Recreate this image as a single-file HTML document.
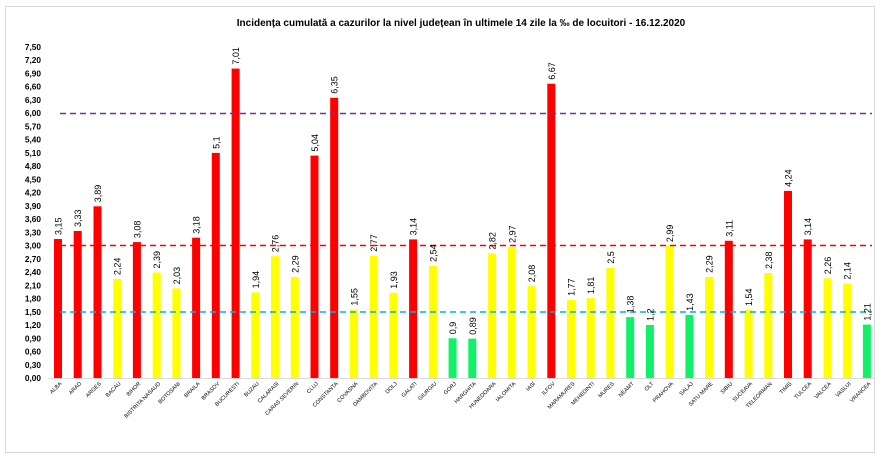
<!DOCTYPE html>
<html><head><meta charset="utf-8"><style>body{margin:0;background:#fff}svg{display:block}text{font-family:"Liberation Sans",sans-serif}</style></head><body>
<svg width="892" height="476" viewBox="0 0 892 476" xmlns="http://www.w3.org/2000/svg">
<rect x="5.5" y="6.5" width="869" height="446" fill="#fff" stroke="#d9d9d9"/>
<text x="461" y="26" text-anchor="middle" font-size="10" font-weight="bold" fill="#000">Incidența cumulată a cazurilor la nivel județean în ultimele 14 zile   la ‰ de locuitori  - 16.12.2020</text>
<g font-size="8.3" font-weight="bold" text-anchor="end" fill="#000">
<text x="41" y="381">0,00</text><text x="41" y="367.8">0,30</text><text x="41" y="354.5">0,60</text><text x="41" y="341.3">0,90</text><text x="41" y="328">1,20</text><text x="41" y="314.8">1,50</text><text x="41" y="301.6">1,80</text><text x="41" y="288.3">2,10</text><text x="41" y="275.1">2,40</text><text x="41" y="261.8">2,70</text><text x="41" y="248.6">3,00</text><text x="41" y="235.4">3,30</text><text x="41" y="222.1">3,60</text><text x="41" y="208.9">3,90</text><text x="41" y="195.6">4,20</text><text x="41" y="182.4">4,50</text><text x="41" y="169.2">4,80</text><text x="41" y="155.9">5,10</text><text x="41" y="142.7">5,40</text><text x="41" y="129.4">5,70</text><text x="41" y="116.2">6,00</text><text x="41" y="103">6,30</text><text x="41" y="89.7">6,60</text><text x="41" y="76.5">6,90</text><text x="41" y="63.2">7,20</text><text x="41" y="50">7,50</text>
</g>
<line x1="48" y1="378.5" x2="874" y2="378.5" stroke="#d9d9d9"/>
<g>
<rect x="54" y="239" width="8" height="139" fill="#f00"/>
<rect x="73.7" y="231" width="8" height="147" fill="#f00"/>
<rect x="93.5" y="206.3" width="8" height="171.7" fill="#f00"/>
<rect x="113.2" y="279.1" width="8" height="98.9" fill="#ff0"/>
<rect x="132.9" y="242.1" width="8" height="135.9" fill="#f00"/>
<rect x="152.7" y="272.5" width="8" height="105.5" fill="#ff0"/>
<rect x="172.4" y="288.4" width="8" height="89.6" fill="#ff0"/>
<rect x="192.1" y="237.7" width="8" height="140.3" fill="#f00"/>
<rect x="211.8" y="152.9" width="8" height="225.1" fill="#f00"/>
<rect x="231.6" y="68.6" width="8" height="309.4" fill="#f00"/>
<rect x="251.3" y="292.4" width="8" height="85.6" fill="#ff0"/>
<rect x="271" y="256.2" width="8" height="121.8" fill="#ff0"/>
<rect x="290.8" y="276.9" width="8" height="101.1" fill="#ff0"/>
<rect x="310.5" y="155.6" width="8" height="222.4" fill="#f00"/>
<rect x="330.2" y="97.8" width="8" height="280.2" fill="#f00"/>
<rect x="350" y="309.6" width="8" height="68.4" fill="#ff0"/>
<rect x="369.7" y="255.8" width="8" height="122.2" fill="#ff0"/>
<rect x="389.4" y="292.8" width="8" height="85.2" fill="#ff0"/>
<rect x="409.1" y="239.4" width="8" height="138.6" fill="#f00"/>
<rect x="428.9" y="265.9" width="8" height="112.1" fill="#ff0"/>
<rect x="448.6" y="338.3" width="8" height="39.7" fill="#10f068"/>
<rect x="468.3" y="338.7" width="8" height="39.3" fill="#10f068"/>
<rect x="488.1" y="253.6" width="8" height="124.4" fill="#ff0"/>
<rect x="507.8" y="246.9" width="8" height="131.1" fill="#ff0"/>
<rect x="527.5" y="286.2" width="8" height="91.8" fill="#ff0"/>
<rect x="547.3" y="83.7" width="8" height="294.3" fill="#f00"/>
<rect x="567" y="299.9" width="8" height="78.1" fill="#ff0"/>
<rect x="586.7" y="298.1" width="8" height="79.9" fill="#ff0"/>
<rect x="606.4" y="267.7" width="8" height="110.3" fill="#ff0"/>
<rect x="626.2" y="317.1" width="8" height="60.9" fill="#10f068"/>
<rect x="645.9" y="325" width="8" height="53" fill="#10f068"/>
<rect x="665.6" y="246.1" width="8" height="131.9" fill="#ff0"/>
<rect x="685.4" y="314.9" width="8" height="63.1" fill="#10f068"/>
<rect x="705.1" y="276.9" width="8" height="101.1" fill="#ff0"/>
<rect x="724.8" y="240.8" width="8" height="137.2" fill="#f00"/>
<rect x="744.6" y="310" width="8" height="68" fill="#ff0"/>
<rect x="764.3" y="273" width="8" height="105" fill="#ff0"/>
<rect x="784" y="190.9" width="8" height="187.1" fill="#f00"/>
<rect x="803.7" y="239.4" width="8" height="138.6" fill="#f00"/>
<rect x="823.5" y="278.3" width="8" height="99.7" fill="#ff0"/>
<rect x="843.2" y="283.6" width="8" height="94.4" fill="#ff0"/>
<rect x="862.9" y="324.6" width="8" height="53.4" fill="#10f068"/>
</g>
<line x1="60" y1="113.5" x2="872" y2="113.5" stroke="#7030a0" stroke-width="1.5" stroke-dasharray="6,4"/>
<line x1="60" y1="245.5" x2="872" y2="245.5" stroke="#f00" stroke-width="1.5" stroke-dasharray="6,4"/>
<line x1="60" y1="312" x2="872" y2="312" stroke="#00b0f0" stroke-width="1.5" stroke-dasharray="6,4"/>
<g font-size="9" fill="#000">
<text transform="translate(61.5,235) rotate(-90)">3,15</text>
<text transform="translate(81.2,227) rotate(-90)">3,33</text>
<text transform="translate(101,202.3) rotate(-90)">3,89</text>
<text transform="translate(120.7,275.1) rotate(-90)">2,24</text>
<text transform="translate(140.4,238.1) rotate(-90)">3,08</text>
<text transform="translate(160.2,268.5) rotate(-90)">2,39</text>
<text transform="translate(179.9,284.4) rotate(-90)">2,03</text>
<text transform="translate(199.6,233.7) rotate(-90)">3,18</text>
<text transform="translate(219.3,148.9) rotate(-90)">5,1</text>
<text transform="translate(239.1,64.6) rotate(-90)">7,01</text>
<text transform="translate(258.8,288.4) rotate(-90)">1,94</text>
<text transform="translate(278.5,252.2) rotate(-90)">2,76</text>
<text transform="translate(298.3,272.9) rotate(-90)">2,29</text>
<text transform="translate(318,151.6) rotate(-90)">5,04</text>
<text transform="translate(337.7,93.8) rotate(-90)">6,35</text>
<text transform="translate(357.5,305.6) rotate(-90)">1,55</text>
<text transform="translate(377.2,251.8) rotate(-90)">2,77</text>
<text transform="translate(396.9,288.8) rotate(-90)">1,93</text>
<text transform="translate(416.6,235.4) rotate(-90)">3,14</text>
<text transform="translate(436.4,261.9) rotate(-90)">2,54</text>
<text transform="translate(456.1,334.3) rotate(-90)">0,9</text>
<text transform="translate(475.8,334.7) rotate(-90)">0,89</text>
<text transform="translate(495.6,249.6) rotate(-90)">2,82</text>
<text transform="translate(515.3,242.9) rotate(-90)">2,97</text>
<text transform="translate(535,282.2) rotate(-90)">2,08</text>
<text transform="translate(554.8,79.7) rotate(-90)">6,67</text>
<text transform="translate(574.5,295.9) rotate(-90)">1,77</text>
<text transform="translate(594.2,294.1) rotate(-90)">1,81</text>
<text transform="translate(613.9,263.7) rotate(-90)">2,5</text>
<text transform="translate(633.7,313.1) rotate(-90)">1,38</text>
<text transform="translate(653.4,321) rotate(-90)">1,2</text>
<text transform="translate(673.1,242.1) rotate(-90)">2,99</text>
<text transform="translate(692.9,310.9) rotate(-90)">1,43</text>
<text transform="translate(712.6,272.9) rotate(-90)">2,29</text>
<text transform="translate(732.3,236.8) rotate(-90)">3,11</text>
<text transform="translate(752.1,306) rotate(-90)">1,54</text>
<text transform="translate(771.8,269) rotate(-90)">2,38</text>
<text transform="translate(791.5,186.9) rotate(-90)">4,24</text>
<text transform="translate(811.2,235.4) rotate(-90)">3,14</text>
<text transform="translate(831,274.3) rotate(-90)">2,26</text>
<text transform="translate(850.7,279.6) rotate(-90)">2,14</text>
<text transform="translate(870.4,320.6) rotate(-90)">1,21</text>
</g>
<g font-size="5.5" fill="#000" text-anchor="end">
<text transform="translate(62,384) rotate(-45)">ALBA</text>
<text transform="translate(81.7,384) rotate(-45)">ARAD</text>
<text transform="translate(101.5,384) rotate(-45)">ARGES</text>
<text transform="translate(121.2,384) rotate(-45)">BACAU</text>
<text transform="translate(140.9,384) rotate(-45)">BIHOR</text>
<text transform="translate(160.7,384) rotate(-45)">BISTRITA NASAUD</text>
<text transform="translate(180.4,384) rotate(-45)">BOTOSANI</text>
<text transform="translate(200.1,384) rotate(-45)">BRAILA</text>
<text transform="translate(219.8,384) rotate(-45)">BRASOV</text>
<text transform="translate(239.6,384) rotate(-45)">BUCURESTI</text>
<text transform="translate(259.3,384) rotate(-45)">BUZAU</text>
<text transform="translate(279,384) rotate(-45)">CALARASI</text>
<text transform="translate(298.8,384) rotate(-45)">CARAS SEVERIN</text>
<text transform="translate(318.5,384) rotate(-45)">CLUJ</text>
<text transform="translate(338.2,384) rotate(-45)">CONSTANTA</text>
<text transform="translate(358,384) rotate(-45)">COVASNA</text>
<text transform="translate(377.7,384) rotate(-45)">DAMBOVITA</text>
<text transform="translate(397.4,384) rotate(-45)">DOLJ</text>
<text transform="translate(417.1,384) rotate(-45)">GALATI</text>
<text transform="translate(436.9,384) rotate(-45)">GIURGIU</text>
<text transform="translate(456.6,384) rotate(-45)">GORJ</text>
<text transform="translate(476.3,384) rotate(-45)">HARGHITA</text>
<text transform="translate(496.1,384) rotate(-45)">HUNEDOARA</text>
<text transform="translate(515.8,384) rotate(-45)">IALOMITA</text>
<text transform="translate(535.5,384) rotate(-45)">IASI</text>
<text transform="translate(555.3,384) rotate(-45)">ILFOV</text>
<text transform="translate(575,384) rotate(-45)">MARAMURES</text>
<text transform="translate(594.7,384) rotate(-45)">MEHEDINTI</text>
<text transform="translate(614.4,384) rotate(-45)">MURES</text>
<text transform="translate(634.2,384) rotate(-45)">NEAMT</text>
<text transform="translate(653.9,384) rotate(-45)">OLT</text>
<text transform="translate(673.6,384) rotate(-45)">PRAHOVA</text>
<text transform="translate(693.4,384) rotate(-45)">SALAJ</text>
<text transform="translate(713.1,384) rotate(-45)">SATU MARE</text>
<text transform="translate(732.8,384) rotate(-45)">SIBIU</text>
<text transform="translate(752.6,384) rotate(-45)">SUCEAVA</text>
<text transform="translate(772.3,384) rotate(-45)">TELEORMAN</text>
<text transform="translate(792,384) rotate(-45)">TIMIS</text>
<text transform="translate(811.7,384) rotate(-45)">TULCEA</text>
<text transform="translate(831.5,384) rotate(-45)">VALCEA</text>
<text transform="translate(851.2,384) rotate(-45)">VASLUI</text>
<text transform="translate(870.9,384) rotate(-45)">VRANCEA</text>
</g>
</svg>
</body></html>
